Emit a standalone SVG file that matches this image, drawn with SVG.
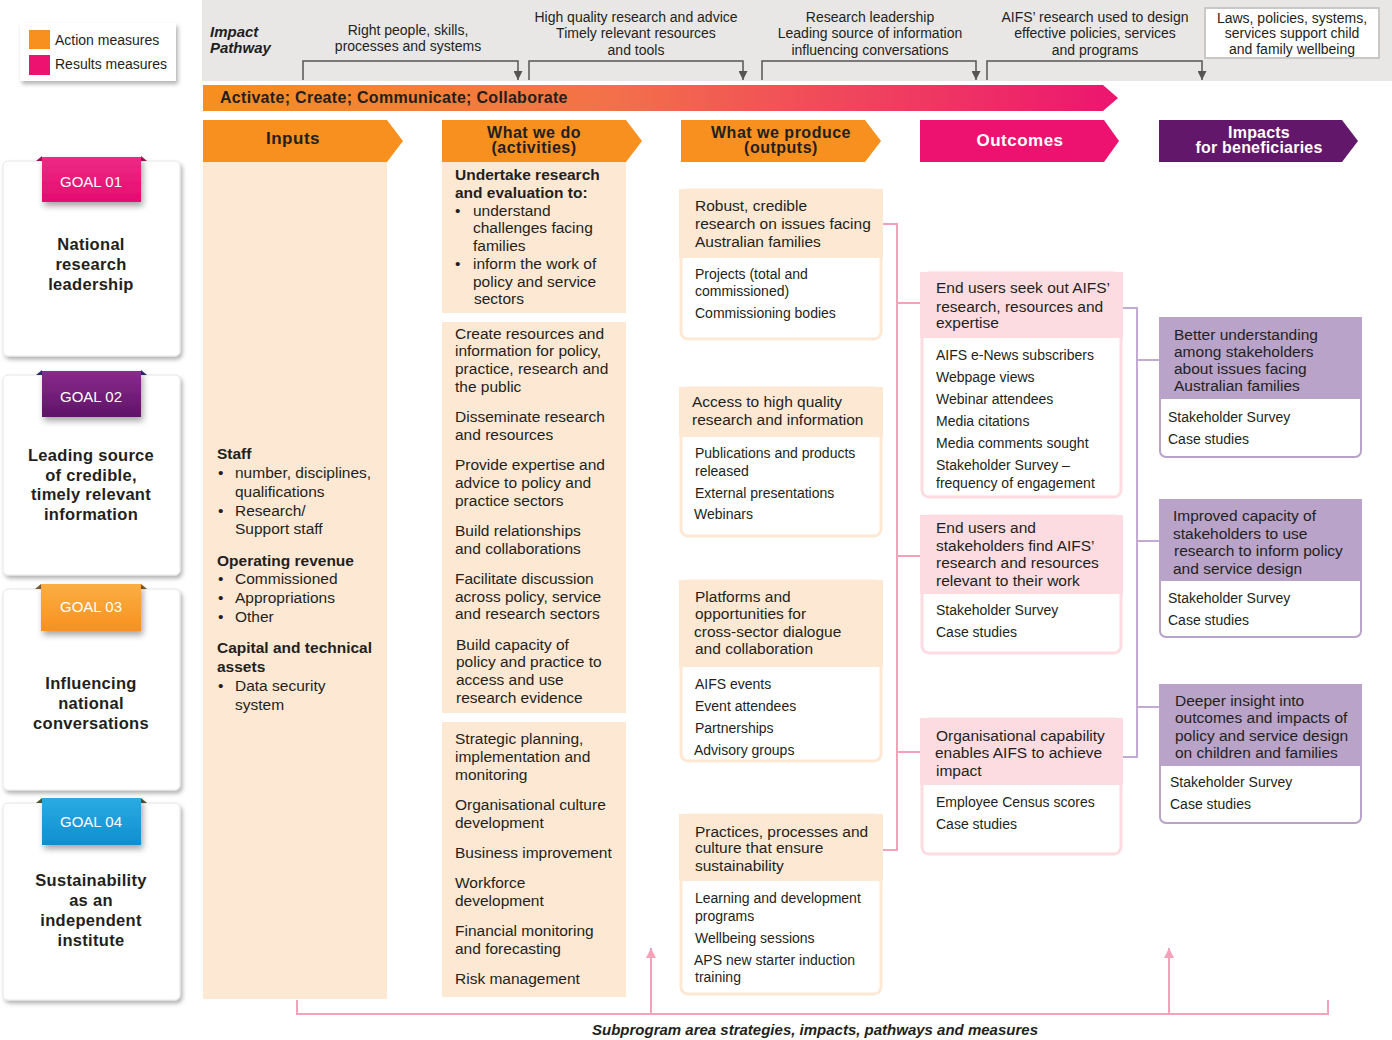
<svg xmlns="http://www.w3.org/2000/svg" width="1392" height="1040" viewBox="0 0 1392 1040">
<defs>
<style>
text{font-family:"Liberation Sans",Arial,sans-serif;fill:#231f20}
.ban{font-size:14px;text-anchor:middle}
.hd{font-size:17px;font-weight:bold;text-anchor:middle;letter-spacing:0.5px}
.hd2{font-size:16px;font-weight:bold;text-anchor:middle;letter-spacing:0.5px}
.hdw{font-size:17px;font-weight:bold;text-anchor:middle;letter-spacing:0.5px;fill:#fff}
.hdw2{font-size:16px;font-weight:bold;text-anchor:middle;letter-spacing:0.2px;fill:#fff}
.body{font-size:15.5px}
.b{font-weight:bold}
.ms{font-size:14px}
.goal{font-size:15px;fill:#fff;text-anchor:middle}
.gt{font-size:16.5px;font-weight:bold;text-anchor:middle;letter-spacing:0.3px}
.card{fill:#fff;stroke:#e6e6e6;stroke-width:1}
.peach{fill:#fde8d4}
.obox{fill:#fff;stroke:#fde8d4;stroke-width:3}
.pbox{fill:#fff;stroke:#fcdce0;stroke-width:3}
.ubox{fill:#fff;stroke:#b9a3c8;stroke-width:2}
.pkl{fill:#fcdce0}
.pul{fill:#b9a3c8}
.pink{fill:none;stroke:#f3a3b9;stroke-width:2}
.purp{fill:none;stroke:#c2aad3;stroke-width:2}
.brk{fill:none;stroke:#555;stroke-width:1.5}
</style>
<linearGradient id="grad" x1="0" y1="0" x2="1" y2="0">
<stop offset="0" stop-color="#f7901e"/>
<stop offset="0.45" stop-color="#f3704a"/>
<stop offset="1" stop-color="#ec1570"/>
</linearGradient>
<linearGradient id="g1" x1="0" y1="0" x2="0" y2="1"><stop offset="0" stop-color="#ee2a85"/><stop offset="1" stop-color="#e40c70"/></linearGradient>
<linearGradient id="g2" x1="0" y1="0" x2="0" y2="1"><stop offset="0" stop-color="#8a2a8e"/><stop offset="1" stop-color="#5e1466"/></linearGradient>
<linearGradient id="g3" x1="0" y1="0" x2="0" y2="1"><stop offset="0" stop-color="#fbae44"/><stop offset="1" stop-color="#f7911e"/></linearGradient>
<linearGradient id="g4" x1="0" y1="0" x2="0" y2="1"><stop offset="0" stop-color="#2aabe2"/><stop offset="1" stop-color="#0f8fcf"/></linearGradient>
<filter id="sh" x="-10%" y="-10%" width="125%" height="125%">
<feDropShadow dx="2" dy="3" stdDeviation="2" flood-color="#000" flood-opacity="0.3"/>
</filter>
<filter id="sh2" x="-20%" y="-20%" width="140%" height="160%">
<feDropShadow dx="2" dy="4" stdDeviation="3" flood-color="#000" flood-opacity="0.35"/>
</filter>
<marker id="arr" viewBox="0 0 10 10" refX="10" refY="5" markerWidth="9" markerHeight="9" markerUnits="userSpaceOnUse" orient="auto">
<path d="M0,0 L10,5 L0,10 z" fill="#555"/>
</marker>
<marker id="arrp" viewBox="0 0 10 10" refX="10" refY="5" markerWidth="10" markerHeight="10" markerUnits="userSpaceOnUse" orient="auto">
<path d="M0,0 L10,5 L0,10 z" fill="#f3a3b9"/>
</marker>
</defs>

<rect width="1392" height="1040" fill="#fff"/>

<!-- Legend -->
<g id="legend">
<rect x="20" y="23" width="156" height="58" fill="#fff" filter="url(#sh)"/>
<rect x="29" y="30" width="21" height="19" fill="#f7901e"/>
<rect x="29" y="55" width="21" height="20" fill="#ed1170"/>
<text x="55" y="45" class="ms">Action measures</text>
<text x="55" y="69" class="ms">Results measures</text>
</g>

<!-- Impact pathway banner -->
<g id="banner">
<rect x="202" y="0" width="1190" height="81" fill="#e8e7e6"/>
<text x="210" y="37" font-size="15" font-weight="bold" font-style="italic">Impact</text>
<text x="210" y="53" font-size="15" font-weight="bold" font-style="italic">Pathway</text>
<text x="408" y="35" class="ban">Right people, skills,</text>
<text x="408" y="51" class="ban">processes and systems</text>
<text x="636" y="22" class="ban">High quality research and advice</text>
<text x="636" y="38" class="ban">Timely relevant resources</text>
<text x="636" y="55" class="ban">and tools</text>
<text x="870" y="22" class="ban">Research leadership</text>
<text x="870" y="38" class="ban">Leading source of information</text>
<text x="870" y="55" class="ban">influencing conversations</text>
<text x="1095" y="22" class="ban">AIFS’ research used to design</text>
<text x="1095" y="38" class="ban">effective policies, services</text>
<text x="1095" y="55" class="ban">and programs</text>
<rect x="1205" y="8" width="174" height="50" fill="#fff" stroke="#c8c8c8" stroke-width="2"/>
<text x="1292" y="23" class="ban">Laws, policies, systems,</text>
<text x="1292" y="38" class="ban">services support child</text>
<text x="1292" y="54" class="ban">and family wellbeing</text>
</g>

<g id="pathway-brackets">
<path class="brk" d="M303,80 V61 H518 V80" marker-end="url(#arr)"/>
<path class="brk" d="M529,80 V61 H743 V80" marker-end="url(#arr)"/>
<path class="brk" d="M762,80 V61 H976 V80" marker-end="url(#arr)"/>
<path class="brk" d="M987,80 V61 H1202 V80" marker-end="url(#arr)"/>
</g>

<!-- Gradient arrow -->
<g id="activate">
<polygon points="203,85 1103,85 1118,98 1103,111 203,111" fill="url(#grad)"/>
<text x="220" y="103" font-size="16" font-weight="bold" letter-spacing="0.3">Activate; Create; Communicate; Collaborate</text>
</g>

<!-- Column headers -->
<g id="h-inputs">
<polygon points="203,120 387,120 403,141 387,162 203,162" fill="#f7901e"/>
<text x="293" y="144" class="hd">Inputs</text>
</g>
<g id="h-activities">
<polygon points="442,120 626,120 642,141 626,162 442,162" fill="#f7901e"/>
<text x="534" y="138" class="hd2">What we do</text>
<text x="534" y="153" class="hd2">(activities)</text>
</g>
<g id="h-outputs">
<polygon points="681,120 865,120 881,141 865,162 681,162" fill="#f7901e"/>
<text x="781" y="138" class="hd2">What we produce</text>
<text x="781" y="153" class="hd2">(outputs)</text>
</g>
<g id="h-outcomes">
<polygon points="920,120 1104,120 1119,141 1104,162 920,162" fill="#ed1170"/>
<text x="1020" y="146" class="hdw">Outcomes</text>
</g>
<g id="h-impacts">
<polygon points="1159,120 1342,120 1358,141 1342,162 1159,162" fill="#62176b"/>
<text x="1259" y="138" class="hdw2">Impacts</text>
<text x="1259" y="153" class="hdw2">for beneficiaries</text>
</g>

<!-- Goal cards -->
<g id="goal1">
<rect x="3" y="161" width="177" height="195" rx="5" class="card" filter="url(#sh)"/>
<polygon points="36,161 42,156 42,161" fill="#9c1657"/>
<polygon points="141,156 147,161 141,161" fill="#9c1657"/>
<rect x="42" y="157" width="99" height="45" fill="url(#g1)" filter="url(#sh2)"/>
<text x="91" y="187" class="goal">GOAL 01</text>
<text x="91" y="250" class="gt">National</text>
<text x="91" y="270" class="gt">research</text>
<text x="91" y="290" class="gt">leadership</text>
</g>
<g id="goal2">
<rect x="3" y="375" width="177" height="200" rx="5" class="card" filter="url(#sh)"/>
<polygon points="36,375 42,370 42,375" fill="#2e2a6e"/>
<polygon points="141,370 147,375 141,375" fill="#2e2a6e"/>
<rect x="42" y="371" width="99" height="46" fill="url(#g2)" filter="url(#sh2)"/>
<text x="91" y="402" class="goal">GOAL 02</text>
<text x="91" y="461" class="gt">Leading source</text>
<text x="91" y="481" class="gt">of credible,</text>
<text x="91" y="500" class="gt">timely relevant</text>
<text x="91" y="520" class="gt">information</text>
</g>
<g id="goal3">
<rect x="3" y="589" width="177" height="201" rx="5" class="card" filter="url(#sh)"/>
<polygon points="35,589 41,584 41,589" fill="#7c5a33"/>
<polygon points="141,584 147,589 141,589" fill="#7c5a33"/>
<rect x="41" y="584" width="100" height="47" fill="url(#g3)" filter="url(#sh2)"/>
<text x="91" y="612" class="goal">GOAL 03</text>
<text x="91" y="689" class="gt">Influencing</text>
<text x="91" y="709" class="gt">national</text>
<text x="91" y="729" class="gt">conversations</text>
</g>
<g id="goal4">
<rect x="3" y="803" width="177" height="197" rx="5" class="card" filter="url(#sh)"/>
<polygon points="36,803 42,798 42,803" fill="#4b5a2e"/>
<polygon points="141,798 147,803 141,803" fill="#4b5a2e"/>
<rect x="42" y="798" width="99" height="47" fill="url(#g4)" filter="url(#sh2)"/>
<text x="91" y="827" class="goal">GOAL 04</text>
<text x="91" y="886" class="gt">Sustainability</text>
<text x="91" y="906" class="gt">as an</text>
<text x="91" y="926" class="gt">independent</text>
<text x="91" y="946" class="gt">institute</text>
</g>

<!-- Inputs -->
<g id="inputs">
<rect x="203" y="162" width="184" height="837" class="peach"/>
<g class="body">
<text x="217" y="459" class="b">Staff</text>
<text x="218" y="478">•</text><text x="235" y="478">number, disciplines,</text>
<text x="235" y="497">qualifications</text>
<text x="218" y="516">•</text><text x="235" y="516">Research/</text>
<text x="235" y="534">Support staff</text>
<text x="217" y="566" class="b">Operating revenue</text>
<text x="218" y="584">•</text><text x="235" y="584">Commissioned</text>
<text x="218" y="603">•</text><text x="235" y="603">Appropriations</text>
<text x="218" y="622">•</text><text x="235" y="622">Other</text>
<text x="217" y="653" class="b">Capital and technical</text>
<text x="217" y="672" class="b">assets</text>
<text x="218" y="691">•</text><text x="235" y="691">Data security</text>
<text x="235" y="710">system</text>
</g>
</g>

<!-- Activities -->
<g id="act1">
<rect x="442" y="162" width="184" height="151" class="peach"/>
<g class="body">
<text x="455" y="180" class="b">Undertake research</text>
<text x="455" y="198" class="b">and evaluation to:</text>
<text x="455" y="216">•</text><text x="473" y="216">understand</text>
<text x="473" y="233">challenges facing</text>
<text x="473" y="251">families</text>
<text x="455" y="269">•</text><text x="473" y="269">inform the work of</text>
<text x="473" y="287">policy and service</text>
<text x="474" y="304">sectors</text>
</g>
</g>
<g id="act2">
<rect x="442" y="322" width="184" height="391" class="peach"/>
<g class="body">
<text x="455" y="339">Create resources and</text>
<text x="455" y="356">information for policy,</text>
<text x="455" y="374">practice, research and</text>
<text x="455" y="392">the public</text>
<text x="455" y="422">Disseminate research</text>
<text x="455" y="440">and resources</text>
<text x="455" y="470">Provide expertise and</text>
<text x="455" y="488">advice to policy and</text>
<text x="455" y="506">practice sectors</text>
<text x="455" y="536">Build relationships</text>
<text x="455" y="554">and collaborations</text>
<text x="455" y="584">Facilitate discussion</text>
<text x="455" y="602">across policy, service</text>
<text x="455" y="619">and research sectors</text>
<text x="456" y="650">Build capacity of</text>
<text x="456" y="667">policy and practice to</text>
<text x="456" y="685">access and use</text>
<text x="456" y="703">research evidence</text>
</g>
</g>
<g id="act3">
<rect x="442" y="722" width="184" height="275" class="peach"/>
<g class="body">
<text x="455" y="744">Strategic planning,</text>
<text x="455" y="762">implementation and</text>
<text x="455" y="780">monitoring</text>
<text x="455" y="810">Organisational culture</text>
<text x="455" y="828">development</text>
<text x="455" y="858">Business improvement</text>
<text x="455" y="888">Workforce</text>
<text x="455" y="906">development</text>
<text x="455" y="936">Financial monitoring</text>
<text x="455" y="954">and forecasting</text>
<text x="455" y="984">Risk management</text>
</g>
</g>

<!-- Outputs -->
<g id="out1">
<rect x="681" y="190" width="200" height="149" rx="7" class="obox"/>
<rect x="679" y="189" width="204" height="69" class="peach"/>
<text x="695" y="211" class="body">Robust, credible</text>
<text x="695" y="229" class="body">research on issues facing</text>
<text x="695" y="247" class="body">Australian families</text>
<text x="695" y="279" class="ms">Projects (total and</text>
<text x="695" y="296" class="ms">commissioned)</text>
<text x="695" y="318" class="ms">Commissioning bodies</text>
</g>
<g id="out2">
<rect x="681" y="388" width="200" height="148" rx="7" class="obox"/>
<rect x="679" y="387" width="204" height="50" class="peach"/>
<text x="692" y="407" class="body">Access to high quality</text>
<text x="692" y="425" class="body">research and information</text>
<text x="695" y="458" class="ms">Publications and products</text>
<text x="695" y="476" class="ms">released</text>
<text x="695" y="498" class="ms">External presentations</text>
<text x="694" y="519" class="ms">Webinars</text>
</g>
<g id="out3">
<rect x="681" y="581" width="200" height="180" rx="7" class="obox"/>
<rect x="679" y="580" width="204" height="87" class="peach"/>
<text x="695" y="602" class="body">Platforms and</text>
<text x="695" y="619" class="body">opportunities for</text>
<text x="694" y="637" class="body">cross-sector dialogue</text>
<text x="695" y="654" class="body">and collaboration</text>
<text x="695" y="689" class="ms">AIFS events</text>
<text x="695" y="711" class="ms">Event attendees</text>
<text x="695" y="733" class="ms">Partnerships</text>
<text x="694" y="755" class="ms">Advisory groups</text>
</g>
<g id="out4">
<rect x="681" y="815" width="200" height="179" rx="7" class="obox"/>
<rect x="679" y="814" width="204" height="67" class="peach"/>
<text x="695" y="837" class="body">Practices, processes and</text>
<text x="695" y="853" class="body">culture that ensure</text>
<text x="695" y="871" class="body">sustainability</text>
<text x="695" y="903" class="ms">Learning and development</text>
<text x="695" y="921" class="ms">programs</text>
<text x="695" y="943" class="ms">Wellbeing sessions</text>
<text x="694" y="965" class="ms">APS new starter induction</text>
<text x="695" y="982" class="ms">training</text>
</g>

<!-- Outcomes -->
<g id="oc1">
<rect x="922" y="273" width="199" height="224" rx="7" class="pbox"/>
<rect x="920" y="272" width="203" height="66" class="pkl"/>
<text x="936" y="293" class="body">End users seek out AIFS’</text>
<text x="936" y="312" class="body">research, resources and</text>
<text x="936" y="328" class="body">expertise</text>
<text x="936" y="360" class="ms">AIFS e-News subscribers</text>
<text x="936" y="382" class="ms">Webpage views</text>
<text x="936" y="404" class="ms">Webinar attendees</text>
<text x="936" y="426" class="ms">Media citations</text>
<text x="936" y="448" class="ms">Media comments sought</text>
<text x="936" y="470" class="ms">Stakeholder Survey –</text>
<text x="936" y="488" class="ms">frequency of engagement</text>
</g>
<g id="oc2">
<rect x="922" y="516" width="199" height="137" rx="7" class="pbox"/>
<rect x="920" y="515" width="203" height="79" class="pkl"/>
<text x="936" y="533" class="body">End users and</text>
<text x="936" y="551" class="body">stakeholders find AIFS’</text>
<text x="936" y="568" class="body">research and resources</text>
<text x="936" y="586" class="body">relevant to their work</text>
<text x="936" y="615" class="ms">Stakeholder Survey</text>
<text x="936" y="637" class="ms">Case studies</text>
</g>
<g id="oc3">
<rect x="922" y="719" width="199" height="135" rx="7" class="pbox"/>
<rect x="920" y="718" width="203" height="67" class="pkl"/>
<text x="936" y="741" class="body">Organisational capability</text>
<text x="935" y="758" class="body">enables AIFS to achieve</text>
<text x="936" y="776" class="body">impact</text>
<text x="936" y="807" class="ms">Employee Census scores</text>
<text x="936" y="829" class="ms">Case studies</text>
</g>

<!-- Impacts -->
<g id="im1">
<rect x="1160" y="318" width="201" height="139" rx="6" class="ubox"/>
<rect x="1159" y="317" width="203" height="82" class="pul"/>
<text x="1174" y="340" class="body">Better understanding</text>
<text x="1174" y="357" class="body">among stakeholders</text>
<text x="1174" y="374" class="body">about issues facing</text>
<text x="1174" y="391" class="body">Australian families</text>
<text x="1168" y="422" class="ms">Stakeholder Survey</text>
<text x="1168" y="444" class="ms">Case studies</text>
</g>
<g id="im2">
<rect x="1160" y="500" width="201" height="137" rx="6" class="ubox"/>
<rect x="1159" y="499" width="203" height="82" class="pul"/>
<text x="1173" y="521" class="body">Improved capacity of</text>
<text x="1173" y="539" class="body">stakeholders to use</text>
<text x="1174" y="556" class="body">research to inform policy</text>
<text x="1173" y="574" class="body">and service design</text>
<text x="1168" y="603" class="ms">Stakeholder Survey</text>
<text x="1168" y="625" class="ms">Case studies</text>
</g>
<g id="im3">
<rect x="1160" y="685" width="201" height="138" rx="6" class="ubox"/>
<rect x="1159" y="684" width="203" height="82" class="pul"/>
<text x="1175" y="706" class="body">Deeper insight into</text>
<text x="1175" y="723" class="body">outcomes and impacts of</text>
<text x="1175" y="741" class="body">policy and service design</text>
<text x="1175" y="758" class="body">on children and families</text>
<text x="1170" y="787" class="ms">Stakeholder Survey</text>
<text x="1170" y="809" class="ms">Case studies</text>
</g>

<!-- Connectors -->
<g id="connectors">
<path class="pink" d="M883,224 H897 V850 H883"/>
<path class="pink" d="M897,303 H920"/>
<path class="pink" d="M897,556 H920"/>
<path class="pink" d="M897,752 H920"/>
<path class="purp" d="M1123,308 H1137 V757 H1123"/>
<path class="purp" d="M1137,360 H1159"/>
<path class="purp" d="M1137,541 H1159"/>
<path class="purp" d="M1137,707 H1159"/>
<path class="pink" d="M297,1000 V1014 H1328 V1000"/>
<path class="pink" d="M651,1014 V948" marker-end="url(#arrp)"/>
<path class="pink" d="M1169,1014 V948" marker-end="url(#arrp)"/>
</g>

<text x="815" y="1035" font-size="15" font-weight="bold" font-style="italic" text-anchor="middle">Subprogram area strategies, impacts, pathways and measures</text>
</svg>
